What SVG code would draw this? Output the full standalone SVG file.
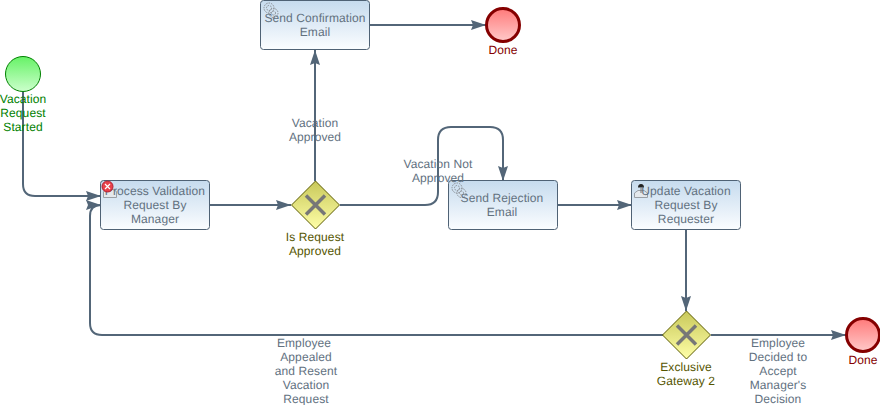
<svg xmlns="http://www.w3.org/2000/svg" width="880" height="405" viewBox="0 0 880 405">
<style>
text{font-family:"Liberation Sans",Arial,sans-serif;font-size:12px;text-anchor:middle;letter-spacing:.1px;text-rendering:geometricPrecision}
.lbl{fill:#62717f}
.task{fill:url(#tg);stroke:#4f6275;stroke-width:1}
.flow{fill:none;stroke:#536678;stroke-width:2;marker-end:url(#ah)}
.gw{fill:url(#gg);stroke:#5a5a00;stroke-width:1}
.x{fill:none;stroke:#777;stroke-width:3.500}
.end{fill:url(#eg);stroke:#850000;stroke-width:3}
.gear{fill:none;stroke:#8a8f95;stroke-width:1;stroke-dasharray:1.500 1}
.gt{fill:#555500}.rt{fill:#850000}.st{fill:#008000}
</style>
<defs>
<linearGradient id="tg" x1="0" y1="0" x2="0" y2="1"><stop offset="0" stop-color="#c6dbee"/><stop offset="1" stop-color="#fbfdff"/></linearGradient>
<linearGradient id="gg" x1="0" y1="0" x2="0" y2="1"><stop offset="0" stop-color="#c8c85a"/><stop offset="1" stop-color="#ffffa8"/></linearGradient>
<linearGradient id="eg" x1="0" y1="0" x2="0" y2="1"><stop offset="0" stop-color="#ff7a7a"/><stop offset="1" stop-color="#ffcaca"/></linearGradient>
<linearGradient id="sg" x1="0" y1="0" x2="0" y2="1"><stop offset="0" stop-color="#66f266"/><stop offset="1" stop-color="#ccffcc"/></linearGradient>
<marker id="ah" markerUnits="userSpaceOnUse" markerWidth="16" markerHeight="12" refX="15" refY="5" orient="auto"><path d="M0 0L15 5L0 10L2 5Z" fill="#536678"/></marker>
<g id="gearicon"><circle cx="6" cy="6" r="5" class="gear"/><circle cx="6" cy="6" r="2.500" class="gear"/><circle cx="10.500" cy="11" r="4.500" class="gear"/><circle cx="10.500" cy="11" r="2" class="gear"/></g>
</defs>
<g id="connectors">
<path class="flow" d="M23 92V184Q23 196 35 196H101"/>
<path class="flow" d="M663 335H102Q90 335 90 323V216Q90 205 101 205"/>
<path class="flow" d="M210 205H291"/>
<path class="flow" d="M315 181V50"/>
<path class="flow" d="M370 25H486"/>
<path class="flow" d="M340 205H425Q438 205 438 192V140Q438 127 451 127H490Q503 127 503 140V181"/>
<path class="flow" d="M558 205H632"/>
<path class="flow" d="M686 230V311"/>
<path class="flow" d="M711 335H846"/>
</g>
<g id="start"><circle cx="23" cy="74" r="17.500" fill="url(#sg)" stroke="#008000" stroke-width="1"/><text class="st" x="23" y="103">Vacation</text><text class="st" x="23" y="117">Request</text><text class="st" x="23" y="131">Started</text></g>
<g id="process"><rect class="task" x="100.500" y="180.500" width="109" height="49" rx="3"/>
<path d="M103.500 197.500V191.500L107 189.500H113L116.500 191.500V197.500Z" fill="#e4e8ec" stroke="#9a9fa5"/>
<text class="lbl" x="155" y="195">Process Validation</text><text class="lbl" x="155" y="209">Request By</text><text class="lbl" x="155" y="223">Manager</text>
<circle cx="107.500" cy="186.500" r="5.500" fill="#e8404a" stroke="#b02030"/><path d="M105 184L110 189M110 184L105 189" stroke="#fff" stroke-width="1.200"/></g>
<g id="confirm"><rect class="task" x="260.500" y="0.500" width="109" height="49" rx="3"/><use href="#gearicon" x="263" y="2"/><text class="lbl" x="315" y="22">Send Confirmation</text><text class="lbl" x="315" y="36">Email</text></g>
<g id="done1"><circle class="end" cx="503" cy="25" r="16.500"/><text class="rt" x="503" y="54">Done</text></g>
<g id="gateway1"><path class="gw" d="M315.500 181L339.500 205L315.500 229L291.500 205Z"/><path class="x" d="M306 195.500L325 214.500M325 195.500L306 214.500"/><text class="gt" x="315" y="241">Is Request</text><text class="gt" x="315" y="255">Approved</text></g>
<g id="reject"><rect class="task" x="448.500" y="180.500" width="109" height="49" rx="3"/><use href="#gearicon" x="451" y="182"/><text class="lbl" x="502" y="202">Send Rejection</text><text class="lbl" x="502" y="216">Email</text></g>
<g id="update"><rect class="task" x="631.500" y="180.500" width="109" height="49" rx="3"/>
<path d="M634.500 197.500V193L638 190.500H644L647.500 193V197.500Z" fill="#e4e8ec" stroke="#9a9fa5"/><path d="M638 187.500A3 3.500 0 0 1 644 187.500Z" fill="#222"/><path d="M641 188V193" stroke="#777"/>
<text class="lbl" x="686" y="195">Update Vacation</text><text class="lbl" x="686" y="209">Request By</text><text class="lbl" x="686" y="223">Requester</text></g>
<g id="gateway2"><path class="gw" d="M686.500 311L710.500 335L686.500 359L662.500 335Z"/><path class="x" d="M677 325.500L696 344.500M696 325.500L677 344.500"/><text class="gt" x="686" y="371">Exclusive</text><text class="gt" x="686" y="385">Gateway 2</text></g>
<g id="done2"><circle class="end" cx="863" cy="335" r="16.500"/><text class="rt" x="863" y="364">Done</text></g>
<g id="labels">
<text class="lbl" x="315" y="127">Vacation</text><text class="lbl" x="315" y="141">Approved</text>
<text class="lbl" x="438" y="168">Vacation Not</text><text class="lbl" x="438" y="182">Approved</text>
<text class="lbl" x="304" y="347">Employee</text><text class="lbl" x="306" y="361">Appealed</text><text class="lbl" x="306" y="375">and Resent</text><text class="lbl" x="306" y="389">Vacation</text><text class="lbl" x="306" y="403">Request</text>
<text class="lbl" x="778" y="347">Employee</text><text class="lbl" x="778" y="361">Decided to</text><text class="lbl" x="778" y="375">Accept</text><text class="lbl" x="778" y="389">Manager's</text><text class="lbl" x="778" y="403">Decision</text>
</g>
</svg>
